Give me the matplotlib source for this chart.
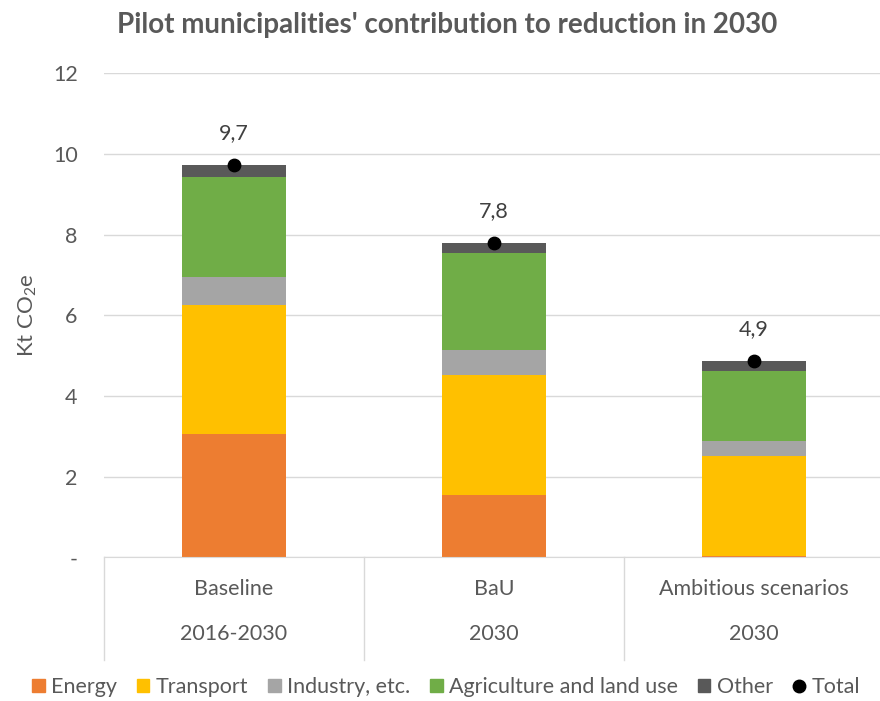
import matplotlib
matplotlib.use("Agg")
import matplotlib.pyplot as plt
import matplotlib.transforms as mtransforms
from matplotlib.lines import Line2D
from matplotlib.patches import Patch
import numpy as np

# Emission sources per scenario (kt CO2e)
scenarios = ["Baseline", "BaU", "Ambitious scenarios"]
periods = ["2016-2030", "2030", "2030"]
energy = [3.06, 1.55, 0.04]
transport = [3.20, 2.97, 2.47]
industry = [0.69, 0.62, 0.38]
agriculture = [2.49, 2.41, 1.74]
other = [0.28, 0.25, 0.23]

series = [
    ("Energy", energy, "#ED7D31"),
    ("Transport", transport, "#FFC000"),
    ("Industry, etc.", industry, "#A5A5A5"),
    ("Agriculture and land use", agriculture, "#70AD47"),
    ("Other", other, "#595959"),
]
totals = np.sum([s[1] for s in series], axis=0)

yticks = [0, 2, 4, 6, 8, 10, 12]
ytick_labels = ["-", "2", "4", "6", "8", "10", "12"]

FONT = "Lato"
TXT = "#595959"
FS = 15.5
plt.rcParams["font.family"] = [FONT, "DejaVu Sans"]
plt.rcParams["mathtext.fontset"] = "custom"
plt.rcParams["mathtext.rm"] = FONT
plt.rcParams["mathtext.it"] = FONT

W, H = 880, 701
fig = plt.figure(figsize=(W / 100, H / 100), dpi=100)
ax = fig.add_axes([104 / W, (H - 557.4) / H, 780 / W, 484 / H])

x = np.arange(len(scenarios))
bottom = np.zeros(len(scenarios))
for name, vals, color in series:
    ax.bar(x, vals, width=0.4, bottom=bottom, color=color, label=name, zorder=2)
    bottom += np.array(vals)

ax.scatter(x, totals, s=80, color="black", zorder=3, label="Total")
for xi, t in zip(x, totals):
    ax.annotate(f"{t:.1f}".replace(".", ","), (xi, t), xytext=(0, 23),
                textcoords="offset points", ha="center", va="center",
                fontsize=FS, color="#404040")

ax.set_xlim(-0.5, 2.5)
ax.set_ylim(0, 12)
ax.set_yticks(yticks)
ax.set_yticklabels(ytick_labels, fontsize=FS, color=TXT)
ax.tick_params(axis="y", length=0, pad=19)
ax.set_xticks([])
ax.yaxis.grid(True, color="#D9D9D9", linewidth=1, zorder=0)
ax.set_axisbelow(True)
for side in ["top", "right", "left"]:
    ax.spines[side].set_visible(False)
ax.spines["bottom"].set_color("#D9D9D9")

# Two-level category axis
trans = mtransforms.blended_transform_factory(ax.transData, ax.transAxes)
for xs in [-0.5, 0.5, 1.5, 2.5]:
    ax.add_line(Line2D([xs, xs], [0, -0.213], transform=trans, color="#D9D9D9",
                       linewidth=1, clip_on=False))
for xi, sc, pr in zip(x, scenarios, periods):
    ax.text(xi, -0.066, sc, transform=trans, ha="center", va="center",
            fontsize=FS, color=TXT)
    ax.text(xi, -0.159, pr, transform=trans, ha="center", va="center",
            fontsize=FS, color=TXT)

ax.set_ylabel("Kt CO$_2$e", fontsize=16, color=TXT, labelpad=10)

fig.text(447 / W, 1 - 25 / H, "Pilot municipalities' contribution to reduction in 2030",
         ha="center", va="center", fontsize=20, fontweight="bold", color=TXT)

handles = [Patch(color=c, label=n) for n, _, c in series]
handles.append(Line2D([], [], marker="o", color="black", linestyle="none",
                      markersize=9, label="Total"))
leg = fig.legend(handles=handles, loc="center", bbox_to_anchor=(446 / W, 1 - 687 / H),
                 ncol=6, frameon=False, fontsize=15.5, handlelength=0.6,
                 handleheight=0.6, handletextpad=0.3, columnspacing=0.9)
for t in leg.get_texts():
    t.set_color(TXT)

fig.savefig("out.png", dpi=100)
